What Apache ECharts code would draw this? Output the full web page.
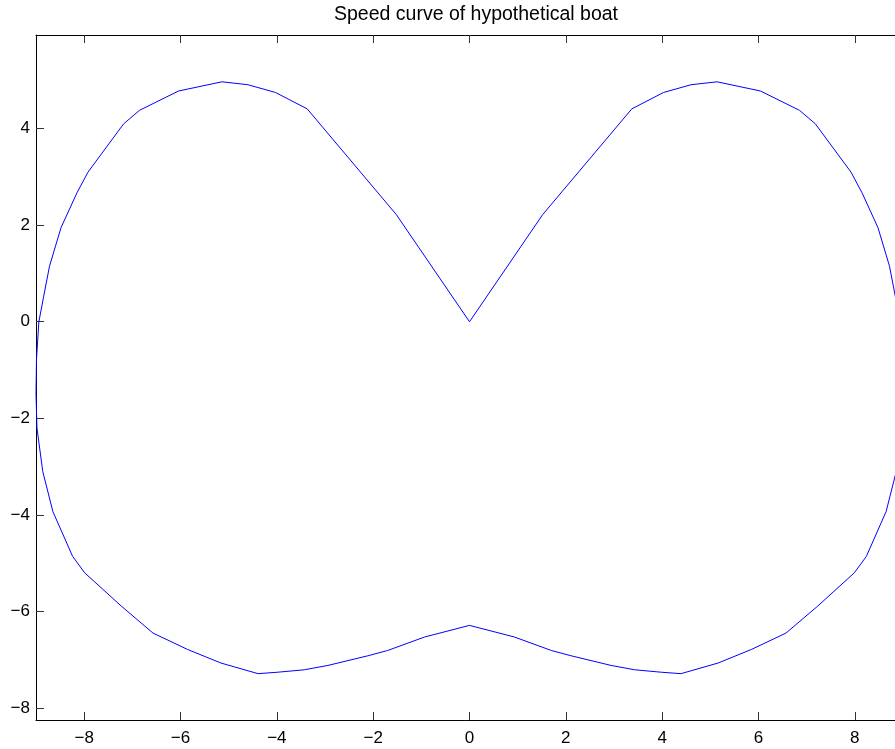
<!DOCTYPE html>
<html>
<head>
<meta charset="utf-8">
<script src="https://cdn.jsdelivr.net/npm/echarts@6/dist/echarts.min.js"></script>
<style>
html,body{margin:0;padding:0;background:#fff;}
#chart{width:895px;height:749px;}
</style>
</head>
<body>
<div id="chart"></div>
<script>
var titleText = 'Speed curve of hypothetical boat';
var xTicks = [-8, -6, -4, -2, 0, 2, 4, 6, 8];
var yTicks = [-8, -6, -4, -2, 0, 2, 4];
var xRange = [-9, 9];
var yRange = [-8.25, 5.94];

// curve vertices, traced in order (closed loop)
var xs = [0, 1.52, 3.37, 4.03, 4.60, 5.14, 6.04, 6.85, 7.18, 7.92, 8.15, 8.48, 8.72, 8.84, 8.94, 8.99, 9.0, 8.98, 8.86, 8.65, 8.24, 7.99, 7.23, 6.57, 5.85, 5.16, 4.39, 3.98, 3.43, 2.94, 2.11, 1.70, 0.93, 0,
  -0.93, -1.70, -2.11, -2.94, -3.43, -3.98, -4.39, -5.16, -5.85, -6.57, -7.23, -7.99, -8.24, -8.65, -8.86, -8.98, -9.0, -8.99, -8.94, -8.84, -8.72, -8.48, -8.15, -7.92, -7.18, -6.85, -6.04, -5.14, -4.60, -4.03, -3.37, -1.52, 0];
var ys = [0, 2.22, 4.41, 4.75, 4.91, 4.97, 4.78, 4.38, 4.10, 3.10, 2.67, 1.95, 1.15, 0.53, 0.0, -0.78, -1.5, -2.2, -3.1, -3.93, -4.86, -5.20, -5.89, -6.45, -6.79, -7.07, -7.29, -7.26, -7.21, -7.12, -6.92, -6.81, -6.53, -6.29,
  -6.53, -6.81, -6.92, -7.12, -7.21, -7.26, -7.29, -7.07, -6.79, -6.45, -5.89, -5.20, -4.86, -3.93, -3.1, -2.2, -1.5, -0.78, 0.0, 0.53, 1.15, 1.95, 2.67, 3.10, 4.10, 4.38, 4.78, 4.97, 4.91, 4.75, 4.41, 2.22, 0];

var pts = xs.map(function (x, i) { return [x, ys[i]]; });
var font = 'Liberation Sans, Arial, Helvetica, sans-serif';

function fmt(v) { return v < 0 ? '\u2212' + Math.abs(v) : String(v); }

function axisCommon(ticks, showLabel, pos) {
  var isY = (pos === 'left' || pos === 'right');
  return {
    type: 'value',
    position: pos,
    min: isY ? yRange[0] : xRange[0],
    max: isY ? yRange[1] : xRange[1],
    splitLine: { show: false },
    axisLine: { show: true, onZero: false, lineStyle: { color: '#000', width: 1 } },
    axisTick: { show: true, inside: true, length: 8, customValues: ticks, lineStyle: { color: '#333', width: 1 } },
    axisLabel: {
      show: showLabel, customValues: ticks, formatter: fmt,
      color: '#000', fontFamily: font, fontSize: 17,
      margin: (pos === 'bottom') ? 10 : 6
    }
  };
}

var chart = echarts.init(document.getElementById('chart'), null, { renderer: 'canvas' });
chart.setOption({
  animation: false,
  backgroundColor: '#fff',
  title: {
    text: titleText, left: 471, top: 0, textAlign: 'center',
    textStyle: { fontFamily: font, fontSize: 19.5, fontWeight: 'normal', color: '#000' }
  },
  grid: { left: 36, top: 35, width: 867, height: 685, containLabel: false, outerBoundsMode: 'none' },
  xAxis: [axisCommon(xTicks, true, 'bottom'), axisCommon(xTicks, false, 'top')],
  yAxis: [axisCommon(yTicks, true, 'left'), axisCommon(yTicks, false, 'right')],
  series: [{
    type: 'line', data: pts, showSymbol: false, symbol: 'none',
    lineStyle: { color: '#0000ff', width: 1 }, clip: true
  }]
});
</script>
</body>
</html>
